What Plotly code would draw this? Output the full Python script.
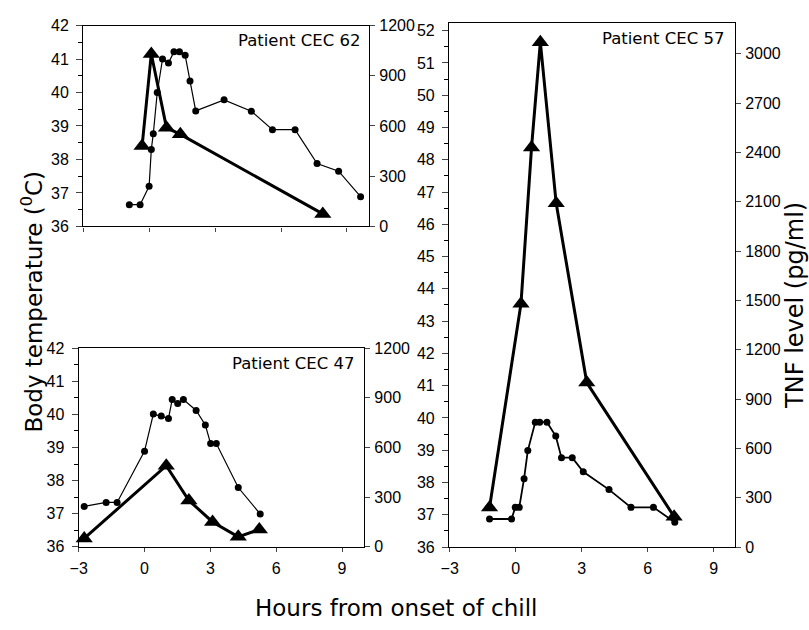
import plotly.graph_objects as go

# ---------------- data ----------------
# Patient CEC 62 (top-left)
hours_temp_62 = [-0.90, -0.41, 0.0, 0.10, 0.19, 0.37, 0.61, 0.88, 1.13, 1.38, 1.64, 1.86, 2.12, 3.41, 4.65, 5.61, 6.64, 7.64, 8.62, 9.62]
temp_62 = [36.65, 36.65, 37.2, 38.3, 38.77, 40.0, 41.0, 40.88, 41.22, 41.22, 41.11, 40.34, 39.45, 39.78, 39.44, 38.89, 38.89, 37.88, 37.65, 36.89]
hours_tnf_62 = [-0.32, 0.10, 0.79, 1.42, 7.90]
tnf_62 = [480, 1030, 590, 550, 75]

# Patient CEC 47 (bottom-left)
hours_temp_47 = [-2.75, -1.75, -1.25, 0.0, 0.40, 0.76, 1.09, 1.26, 1.51, 1.77, 2.35, 2.77, 3.01, 3.27, 4.27, 5.27]
temp_47 = [37.22, 37.34, 37.34, 38.89, 40.01, 39.95, 39.88, 40.45, 40.33, 40.45, 40.12, 39.68, 39.12, 39.12, 37.79, 36.99]
hours_tnf_47 = [-2.75, 0.99, 2.02, 3.10, 4.27, 5.23]
tnf_47 = [50, 490, 280, 150, 60, 105]

# Patient CEC 57 (right)
hours_temp_57 = [-1.19, -0.19, -0.02, 0.16, 0.38, 0.55, 0.89, 1.09, 1.42, 1.82, 2.08, 2.57, 3.07, 4.24, 5.24, 6.26, 7.23]
temp_57 = [36.87, 36.87, 37.23, 37.23, 38.12, 38.99, 39.87, 39.87, 39.87, 39.44, 38.77, 38.77, 38.33, 37.78, 37.23, 37.23, 36.77]
hours_tnf_57 = [-1.19, 0.24, 0.72, 1.12, 1.84, 3.23, 7.20]
tnf_57 = [240, 1480, 2430, 3070, 2090, 1000, 185]

x_ticks = [-3, 0, 3, 6, 9]
patient_labels = ["Patient CEC 62", "Patient CEC 47", "Patient CEC 57"]

# ---------------- figure ----------------
W, H = 809, 630
TICKFONT = dict(family="Liberation Sans, Arial, sans-serif", size=16, color="black")
TXTFONT = "DejaVu Sans, sans-serif"


def px_x(a, b):
    return [a / W, b / W]


def px_y(top, bottom):
    return [1 - bottom / H, 1 - top / H]


fig = go.Figure()

panels = [
    ("x", "y", "y2", "y7", (75, 364), (18, 224.5), [-3, 10], [36, 42], [0, 1200], False,
     hours_temp_62, temp_62, hours_tnf_62, tnf_62, 1.2),
    ("x2", "y3", "y4", "y8", (70.5, 359), (349.7, 553.7), [-3, 10], [36, 42], [0, 1200], True,
     hours_temp_47, temp_47, hours_tnf_47, tnf_47, 1.2),
    ("x3", "y5", "y6", "y9", (445, 734), (15, 554), [-3.03, 9.96], [36, 52.25], [0, 3189], True,
     hours_temp_57, temp_57, hours_tnf_57, tnf_57, 1.8),
]

layout = dict(
    width=W, height=H,
    margin=dict(l=0, r=0, t=0, b=0),
    paper_bgcolor="white", plot_bgcolor="white",
    showlegend=False,
)

for (xa, ya, y2a, y3a, xd, yd, xr, yr, y2r, showx, ht, tv, hn, nv, tlw) in panels:
    fig.add_trace(go.Scatter(
        x=ht, y=tv, xaxis=xa, yaxis=ya, mode="lines+markers",
        line=dict(color="black", width=tlw),
        marker=dict(symbol="circle", size=7, color="black"),
        hoverinfo="skip"))
    fig.add_trace(go.Scatter(
        x=hn, y=nv, xaxis=xa, yaxis=y2a, mode="lines+markers",
        line=dict(color="black", width=3),
        marker=dict(symbol="triangle-up", size=15, color="black"),
        cliponaxis=False,
        hoverinfo="skip"))

    xkey = "xaxis" + xa[1:]
    ykey = "yaxis" + ya[1:]
    y2key = "yaxis" + y2a[1:]
    y3key = "yaxis" + y3a[1:]
    layout[xkey] = dict(
        domain=px_x(*xd), anchor=ya, range=xr, tickvals=x_ticks,
        showticklabels=showx, ticks="outside", ticklen=4, tickwidth=1.2,
        showline=True, linecolor="black", linewidth=1.3, mirror=True,
        showgrid=False, zeroline=False, tickfont=TICKFONT, ticklabelstandoff=3,
    )
    layout[ykey] = dict(
        domain=px_y(*yd), anchor=xa, range=yr, dtick=1,
        ticks="outside", ticklen=6, tickwidth=1.2,
        minor=dict(dtick=0.5, ticks="outside", ticklen=4, tickwidth=1, tickcolor="black"),
        showline=True, linecolor="black", linewidth=1.3,
        showgrid=False, zeroline=False, tickfont=TICKFONT, ticklabelstandoff=4,
    )
    layout[y2key] = dict(
        overlaying=ya, anchor=xa, side="right", range=y2r, dtick=300,
        ticks="outside", ticklen=5, tickwidth=1.2,
        showline=True, linecolor="black", linewidth=1.3,
        showgrid=False, zeroline=False, tickfont=TICKFONT, ticklabelstandoff=1,
    )
    # inner half of the crossing ticks on the right axis
    layout[y3key] = dict(
        overlaying=ya, anchor=xa, side="right", range=y2r, dtick=300,
        ticks="inside", ticklen=4, tickwidth=1.2, showticklabels=False,
        showline=False, showgrid=False, zeroline=False,
    )

fig.update_layout(**layout)

# patient labels
label_pos = [(357, 33), (351, 365), (725, 31)]
for txt, (lx, ly) in zip(patient_labels, label_pos):
    fig.add_annotation(x=lx / W, y=1 - ly / H, xref="paper", yref="paper", text=txt,
                       showarrow=False, xanchor="right", yanchor="middle",
                       font=dict(family=TXTFONT, size=16.5, color="black"))

# axis titles
fig.add_annotation(x=23 / W, y=1 - 302 / H, xref="paper", yref="paper",
                   text="Body temperature (<sup>0</sup>C)", textangle=-90,
                   showarrow=False, xanchor="center", yanchor="middle",
                   font=dict(family=TXTFONT, size=23, color="black"))
fig.add_annotation(x=795 / W, y=1 - 306 / H, xref="paper", yref="paper",
                   text="TNF level (pg/ml)", textangle=-90,
                   showarrow=False, xanchor="center", yanchor="middle",
                   font=dict(family=TXTFONT, size=24, color="black"))
fig.add_annotation(x=392 / W, y=1 - 617 / H, xref="paper", yref="paper",
                   text="Hours from onset of chill",
                   showarrow=False, xanchor="center", yanchor="middle",
                   font=dict(family=TXTFONT, size=23, color="black"))

fig.write_html("out.html")
